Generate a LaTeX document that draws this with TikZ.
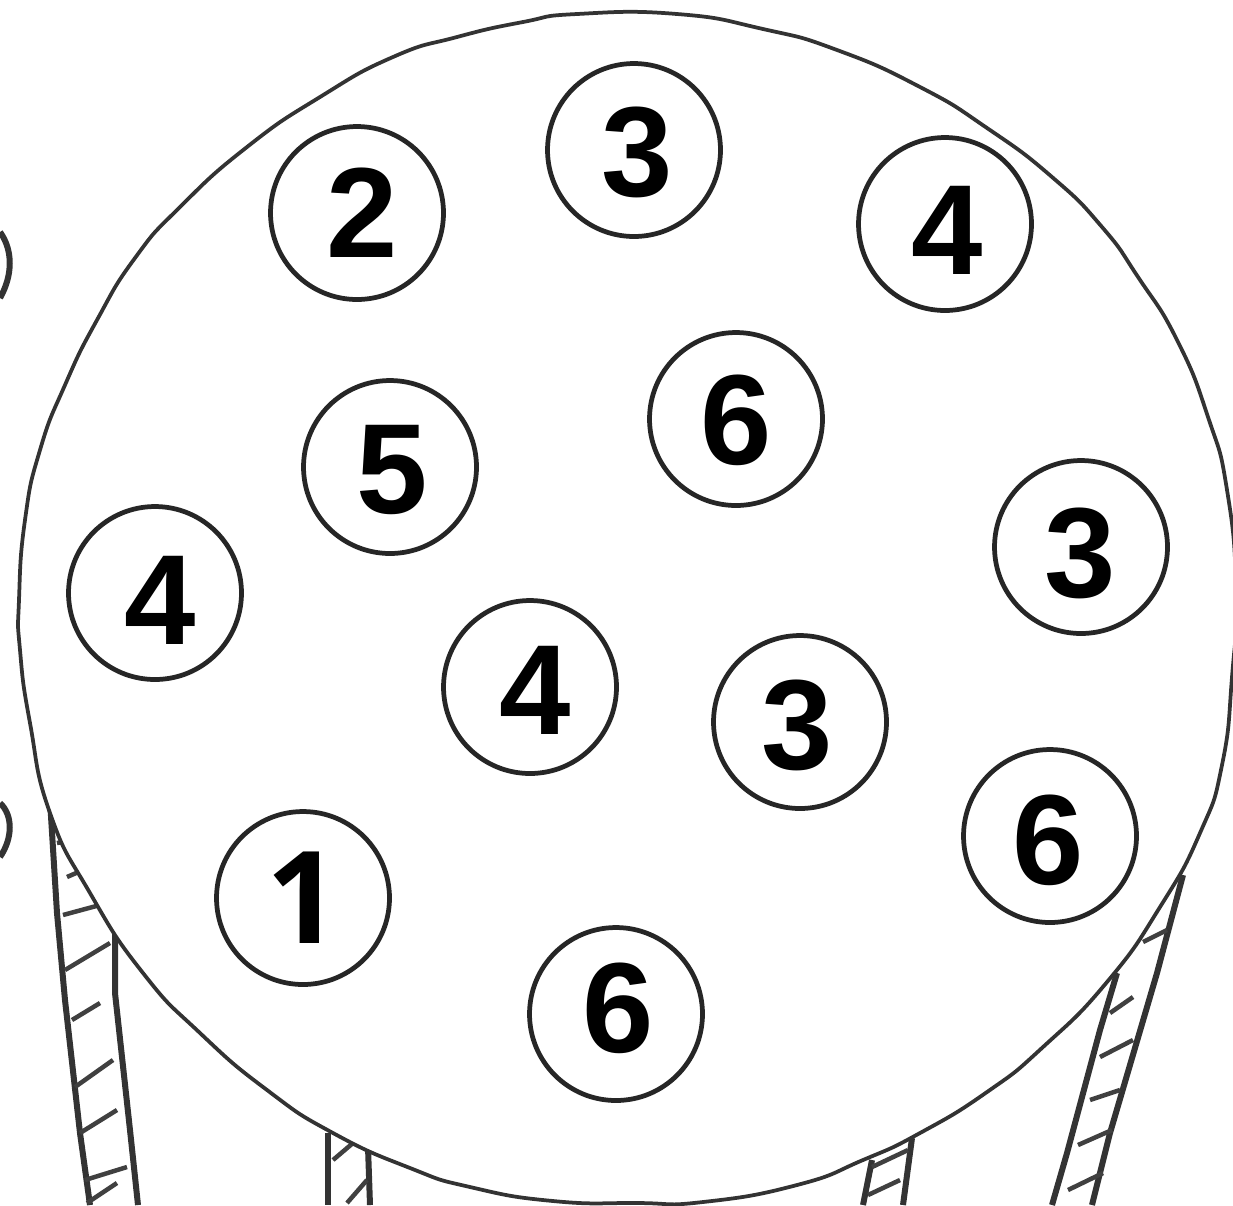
\documentclass[tikz,border=0pt]{standalone}
\usepackage{fontspec}
\setmainfont{Liberation Sans}
\newfontfamily\onefont{Open Sans}
\tikzset{
  hole/.style={circle,draw=black!85,line width=0.095cm,minimum size=3.46cm,inner sep=0pt},
  digit/.style={inner sep=0pt,font=\fontsize{73}{73}\selectfont\bfseries},
  rim/.style={draw=black!80,line width=0.075cm},
  strut/.style={draw=black!80,line width=0.12cm},
  hatch/.style={draw=black!75,line width=0.09cm}
}
\begin{document}
\begin{tikzpicture}[x=0.02cm,y=-0.02cm]
\useasboundingbox (0,0) rectangle (1233,1205);
\clip (0,0) rectangle (1233,1205);
% struts
\draw[strut] (50,800) -- (57,913) -- (65,1000) -- (80,1133) -- (90,1205);
\draw[strut] (115,930) -- (115,993) -- (130,1130) -- (138,1205);
\draw[strut] (328,1133) -- (328,1205);
\draw[strut] (368,1147) -- (370,1205);
\draw[strut] (872,1160) -- (863,1205);
\draw[strut] (912,1138) -- (903,1205);
\draw[strut] (1117,973) -- (1100,1030) -- (1067,1153) -- (1052,1205);
\draw[strut] (1183,875) -- (1157,973) -- (1110,1133) -- (1092,1205);
\foreach \a/\b/\c/\d in {57/843/72/840, 67/877/83/870, 63/915/100/905, 65/970/110/943, 72/1020/100/1003, 75/1087/113/1060, 80/1133/117/1110, 85/1180/127/1167, 87/1203/117/1183}
  \draw[hatch] (\a,\b) -- (\c,\d);
\foreach \a/\b/\c/\d in {333/1160/353/1143, 347/1203/367/1180}
  \draw[hatch] (\a,\b) -- (\c,\d);
\foreach \a/\b/\c/\d in {868/1195/900/1180, 872/1167/908/1150}
  \draw[hatch] (\a,\b) -- (\c,\d);
\foreach \a/\b/\c/\d in {1167/930/1143/942, 1133/997/1110/1013, 1133/1040/1100/1057, 1120/1090/1090/1100, 1112/1130/1078/1145, 1103/1173/1068/1190}
  \draw[hatch] (\a,\b) -- (\c,\d);
% edge fragments
\draw[strut] (0,232) .. controls (13,250) and (13,275) .. (0,298);
\draw[strut] (0,803) .. controls (13,815) and (13,838) .. (0,857);
% main plate
\draw[rim,fill=white] plot[smooth cycle,tension=0.9] coordinates {
 (577,14) (677,14) (763,29) (837,50) (920,87) (987,128) (1052,177) (1102,227) (1138,277)
 (1177,340) (1208,417) (1227,490) (1236,590) (1232,677) (1222,765) (1200,833) (1160,907)
 (1107,982) (1043,1047) (987,1092) (920,1133) (863,1160) (797,1185) (703,1202) (637,1203)
 (553,1201) (470,1187) (410,1168) (333,1133) (267,1090) (200,1033) (143,973) (90,893)
 (50,813) (30,723) (20,650) (19,600) (25,520) (40,450) (65,385) (97,320) (135,258) (180,207)
 (247,147) (320,97) (393,57) (457,37) (523,22)};
% holes
\node[hole] (a) at (357,213) {};
\node[hole] (b) at (634,150) {};
\node[hole] (c) at (945,224) {};
\node[hole] (d) at (736,419) {};
\node[hole] (e) at (390,467) {};
\node[hole] (f) at (1081,547) {};
\node[hole] (g) at (155,593) {};
\node[hole] (h) at (530,687) {};
\node[hole] (i) at (800,722) {};
\node[hole] (j) at (1050,836) {};
\node[hole] (k) at (303,898) {};
\node[hole] (l) at (616,1014) {};
\node[digit] (ta) at (362,213) {2};
\node[digit] (tb) at (637,152) {3};
\node[digit] (tc) at (947,230) {4};
\node[digit] (td) at (736,420) {6};
\node[digit] (te) at (392,470) {5};
\node[digit] (tf) at (1080,553) {3};
\node[digit] (tg) at (160,600) {4};
\node[digit] (th) at (535,690) {4};
\node[digit] (ti) at (797,725) {3};
\node[digit] (tj) at (1048,840) {6};
\node[digit] (tk) at (303,898) {\onefont\bfseries 1};
\node[digit] (tl) at (618,1008) {6};
\end{tikzpicture}
\end{document}
